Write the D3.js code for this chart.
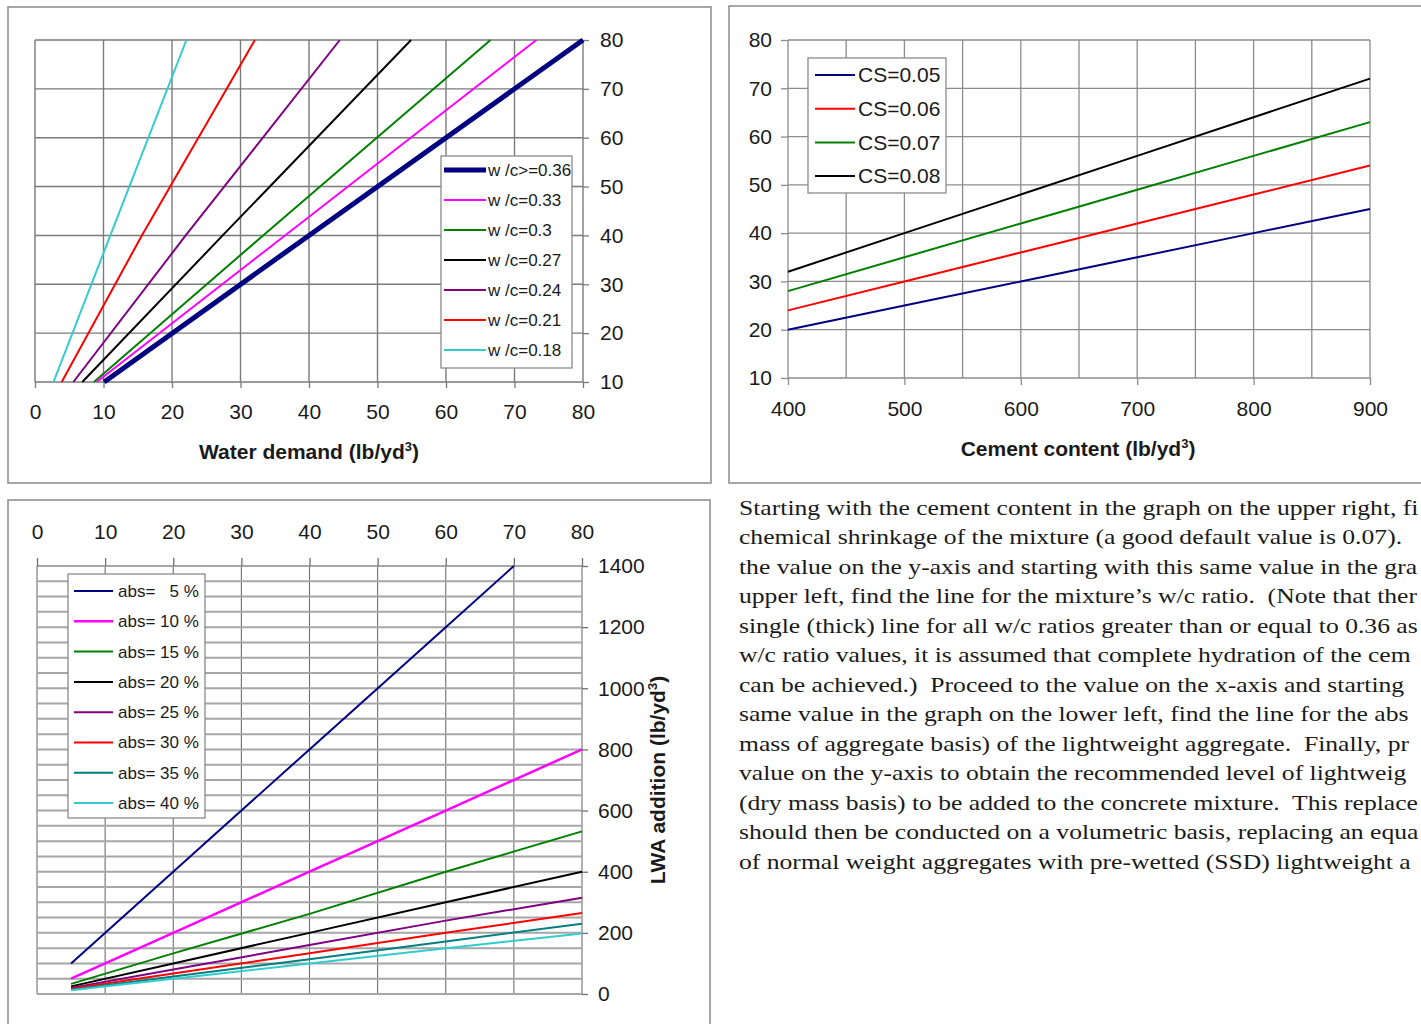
<!DOCTYPE html>
<html>
<head>
<meta charset="utf-8">
<script src="https://cdn.jsdelivr.net/npm/d3@7/dist/d3.min.js"></script>
<style>
  body { margin: 0; background: #fff; }
  text { font-family: Arial, "Liberation Sans", sans-serif; fill: #1a1a1a; }
  .note { font-family: "Times New Roman", "Liberation Serif", serif; }
</style>
</head>
<body>
<svg id="canvas" width="1421" height="1024"></svg>
<script>
// upper left graph: x = water demand, y = value carried over from the cement graph
let wcLabels = ['w /c>=0.36', 'w /c=0.33', 'w /c=0.3', 'w /c=0.27', 'w /c=0.24', 'w /c=0.21', 'w /c=0.18']
let wcColors = ['#000080', '#ff00ff', '#008000', '#000000', '#800080', '#ff0000', '#33cccc']
let wcWidths = [5, 2, 2, 2, 2, 2, 2]
let wcY = [10, 40, 80]
let wcX = [
  [10.1, 40, 80],
  [9.0, 36.5, 73.2],
  [8.6, 33.3, 66.5],
  [6.9, 27.4, 54.9],
  [5.6, 22.0, 44.5],
  [3.9, 15.6, 32.1],
  [2.7, 11.0, 22.1]
]
let wcXTicks = [0, 10, 20, 30, 40, 50, 60, 70, 80]
let wcYTicks = [10, 20, 30, 40, 50, 60, 70, 80]

// upper right graph: chemical shrinkage
let csLabels = ['CS=0.05', 'CS=0.06', 'CS=0.07', 'CS=0.08']
let csColors = ['#000080', '#ff0000', '#008000', '#000000']
let cement = [400, 500, 600, 700, 800, 900]
let cs05 = [20, 25, 30, 35, 40, 45]
let cs06 = [24, 30, 36, 42, 48, 54]
let cs07 = [28, 35, 42, 49, 56, 63]
let cs08 = [32, 40, 48, 56, 64, 72]
let csXTicks = [400, 500, 600, 700, 800, 900]
let csYTicks = [10, 20, 30, 40, 50, 60, 70, 80]

// lower left graph: LWA addition vs water demand
let absLabels = ['abs=   5 %', 'abs= 10 %', 'abs= 15 %', 'abs= 20 %', 'abs= 25 %', 'abs= 30 %', 'abs= 35 %', 'abs= 40 %']
let absColors = ['#000080', '#ff00ff', '#008000', '#000000', '#800080', '#ff0000', '#008080', '#33cccc']
let absWidths = [2, 2.5, 2, 2, 2, 2, 2, 2]
let water5 = [5, 20, 40, 60, 70]
let water = [5, 20, 40, 60, 80]
let abs05 = [100, 400, 800, 1200, 1400]
let abs10 = [50, 200, 400, 600, 800]
let abs15 = [33, 133, 262, 400, 532]
let abs20 = [25, 100, 200, 300, 400]
let abs25 = [20, 80, 160, 240, 315]
let abs30 = [17, 67, 133, 200, 265]
let abs35 = [14, 57, 114, 172, 230]
let abs40 = [12, 50, 100, 150, 198]
let absXTicks = [0, 10, 20, 30, 40, 50, 60, 70, 80]
let absYTicks = [0, 200, 400, 600, 800, 1000, 1200, 1400]

// only the part of each line that shows before the right edge of the page
let noteLines = [
  'Starting with the cement content in the graph on the upper right, fi',
  'chemical shrinkage of the mixture (a good default value is 0.07).',
  'the value on the y-axis and starting with this same value in the grap',
  'upper left, find the line for the mixture\u2019s w/c ratio.  (Note that ther',
  'single (thick) line for all w/c ratios greater than or equal to 0.36 as',
  'w/c ratio values, it is assumed that complete hydration of the ceme',
  'can be achieved.)  Proceed to the value on the x-axis and starting w',
  'same value in the graph on the lower left, find the line for the abso',
  'mass of aggregate basis) of the lightweight aggregate.  Finally, pro',
  'value on the y-axis to obtain the recommended level of lightweight',
  '(dry mass basis) to be added to the concrete mixture.  This replace',
  'should then be conducted on a volumetric basis, replacing an equal',
  'of normal weight aggregates with pre-wetted (SSD) lightweight ag'
]

let canvas = d3.select('#canvas')
canvas.append('rect').attr('width', 1421).attr('height', 1024).attr('fill', '#fff')

let panel = (x, y, w, h) => {
  canvas.append('rect')
        .attr('x', x).attr('y', y).attr('width', w).attr('height', h)
        .attr('fill', 'none').attr('stroke', '#8a8a8a').attr('stroke-width', 1.5)
}

let grid = (g, x, y, xs, ys, color, width, yColor, yWidth) => {
  g.selectAll('line.v').data(xs).enter().append('line')
   .attr('x1', d => x(d)).attr('x2', d => x(d))
   .attr('y1', y.range()[0]).attr('y2', y.range()[1])
   .attr('stroke', color).attr('stroke-width', width)
  g.selectAll('line.h').data(ys).enter().append('line')
   .attr('y1', d => y(d)).attr('y2', d => y(d))
   .attr('x1', x.range()[0]).attr('x2', x.range()[1])
   .attr('stroke', yColor || color).attr('stroke-width', yWidth || width)
}

let styleAxis = (g, color, size) => {
  g.select('.domain').remove()
  g.selectAll('.tick line').attr('stroke', color).attr('stroke-width', 1.3)
  g.selectAll('.tick text').style('font-size', size + 'px').attr('fill', '#1a1a1a')
}

let title = (x, y, str, rotate) => {
  let t = canvas.append('text')
                .attr('text-anchor', 'middle')
                .style('font-size', '21px').style('font-weight', 'bold')
  if (rotate) {
    t.attr('transform', 'translate(' + x + ',' + y + ') rotate(-90)')
  } else {
    t.attr('x', x).attr('y', y)
  }
  t.append('tspan').text(str)
  t.append('tspan').attr('dy', -8).style('font-size', '13px').text('3')
  t.append('tspan').attr('dy', 8).text(')')
}

let legend = (x, y, w, h, labels, colors, widths, y0, step, lx0, lx1, tx, size) => {
  let g = canvas.append('g')
  g.append('rect').attr('x', x).attr('y', y).attr('width', w).attr('height', h)
   .attr('fill', '#fff').attr('stroke', '#8a8a8a').attr('stroke-width', 1.3)
  labels.forEach((label, i) => {
    g.append('line')
     .attr('x1', lx0).attr('x2', lx1)
     .attr('y1', y0 + i * step).attr('y2', y0 + i * step)
     .attr('stroke', colors[i]).attr('stroke-width', widths[i])
    g.append('text')
     .attr('x', tx).attr('y', y0 + i * step)
     .attr('dy', '0.35em')
     .style('font-size', size + 'px')
     .style('white-space', 'pre')
     .text(label)
  })
}

// ---------- upper left ----------
panel(8, 7, 703, 476)
let x1 = d3.scaleLinear().domain([0, 80]).range([35, 583])
let y1 = d3.scaleLinear().domain([10, 80]).range([382, 40])
let g1 = canvas.append('g')
grid(g1, x1, y1, wcXTicks, wcYTicks, '#7a7a7a', 1.4)

let ax1 = canvas.append('g').attr('transform', 'translate(0,382)')
                .call(d3.axisBottom(x1).tickValues(wcXTicks).tickSize(6).tickPadding(16))
styleAxis(ax1, '#7a7a7a', 21)
let ay1 = canvas.append('g').attr('transform', 'translate(583,0)')
                .call(d3.axisRight(y1).tickValues(wcYTicks).tickSize(6).tickPadding(11))
styleAxis(ay1, '#7a7a7a', 21)

let line1 = d3.line().x(d => x1(d[0])).y(d => y1(d[1]))
wcX.slice().reverse().forEach((xs, j) => {
  let i = wcX.length - 1 - j
  canvas.append('path')
        .datum(xs.map((v, k) => [v, wcY[k]]))
        .attr('d', line1)
        .attr('fill', 'none')
        .attr('stroke', wcColors[i])
        .attr('stroke-width', wcWidths[i])
})
legend(441, 156, 131, 212, wcLabels, wcColors, wcWidths, 170, 30, 444, 486, 488, 17)
title(309, 459, 'Water demand (lb/yd')

// ---------- upper right ----------
panel(729, 6, 720, 477)
let x2 = d3.scaleLinear().domain([400, 900]).range([788, 1370])
let y2 = d3.scaleLinear().domain([10, 80]).range([378, 40])
let g2 = canvas.append('g')
grid(g2, x2, y2, d3.range(400, 901, 50), csYTicks, '#8c8c8c', 1.3)

let ax2 = canvas.append('g').attr('transform', 'translate(0,378)')
                .call(d3.axisBottom(x2).tickValues(csXTicks).tickSize(7).tickPadding(16))
styleAxis(ax2, '#8c8c8c', 21)
let ay2 = canvas.append('g').attr('transform', 'translate(788,0)')
                .call(d3.axisLeft(y2).tickValues(csYTicks).tickSize(7).tickPadding(9))
styleAxis(ay2, '#8c8c8c', 21)

let line2 = d3.line().x(d => x2(d[0])).y(d => y2(d[1]))
let csSeries = [cs05, cs06, cs07, cs08]
csSeries.forEach((vals, i) => {
  canvas.append('path')
        .datum(cement.map((c, k) => [c, vals[k]]))
        .attr('d', line2)
        .attr('fill', 'none')
        .attr('stroke', csColors[i])
        .attr('stroke-width', 2)
})
legend(808, 58, 138, 135, csLabels, csColors, [2, 2, 2, 2], 75, 33.7, 815, 855, 858, 21)
title(1078, 456, 'Cement content (lb/yd')

// ---------- lower left ----------
panel(8, 500, 702, 540)
let x3 = d3.scaleLinear().domain([0, 80]).range([37, 582])
let y3 = d3.scaleLinear().domain([0, 1400]).range([994, 566])
let g3 = canvas.append('g')
// horizontal lines every 50 are lighter and heavier than the verticals
grid(g3, x3, y3, absXTicks, d3.range(0, 1401, 50), '#6e6e6e', 1.1, '#a6a6a6', 2)

let ax3 = canvas.append('g').attr('transform', 'translate(0,566)')
                .call(d3.axisTop(x3).tickValues(absXTicks).tickSize(8).tickPadding(19))
styleAxis(ax3, '#6e6e6e', 21)
let ay3 = canvas.append('g').attr('transform', 'translate(582,0)')
                .call(d3.axisRight(y3).tickValues(absYTicks).tickSize(6).tickPadding(10)
                        .tickFormat(d3.format('d')))
styleAxis(ay3, '#6e6e6e', 21)

let line3 = d3.line().x(d => x3(d[0])).y(d => y3(d[1]))
let absSeries = [abs05, abs10, abs15, abs20, abs25, abs30, abs35, abs40]
absSeries.forEach((vals, i) => {
  let xs = i === 0 ? water5 : water
  canvas.append('path')
        .datum(xs.map((w, k) => [w, vals[k]]))
        .attr('d', line3)
        .attr('fill', 'none')
        .attr('stroke', absColors[i])
        .attr('stroke-width', absWidths[i])
})
legend(68, 574, 137, 244, absLabels, absColors, absWidths, 591, 30.3, 74, 113, 118, 17)
title(665, 780, 'LWA addition (lb/yd', true)

// ---------- explanation text (the scan is stretched sideways) ----------
let stretch = 1.165
let notes = canvas.append('g')
      .attr('transform', 'translate(739,0) scale(' + stretch + ',1)')
      .selectAll('text')
      .data(noteLines)
      .enter()
      .append('text')
      .attr('class', 'note')
      .attr('x', 0)
      .attr('y', (d, i) => 515 + i * 29.5)
      .style('font-size', '22px')
      .style('white-space', 'pre')
      .attr('fill', '#000')
      .text(d => d)

// drop trailing letters that would run past the page edge
notes.each(function () {
  let t = d3.select(this)
  let s = t.text()
  while (s.length && 739 + this.getComputedTextLength() * stretch > 1419) {
    s = s.slice(0, -1)
    t.text(s)
  }
})
</script>
</body>
</html>
